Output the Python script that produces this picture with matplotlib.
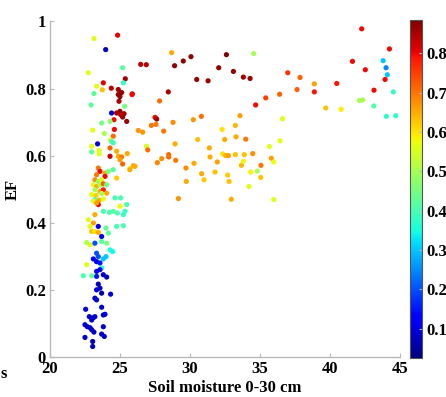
import matplotlib
matplotlib.use("Agg")
import matplotlib.pyplot as plt
from matplotlib.ticker import FixedLocator, FixedFormatter

plt.rcParams.update({
    'font.family': 'serif',
    'font.serif': ['Liberation Serif', 'DejaVu Serif'],
    'font.weight': 'bold',
    'font.size': 12,
})

# (soil moisture, EF, colour value)
points = [
    # right-hand cloud
    (42.26, 0.978, 0.80), (44.24, 0.918, 0.80), (41.60, 0.881, 0.80), (43.79, 0.883, 0.30),
    (44.00, 0.862, 0.25), (42.52, 0.856, 0.80), (44.09, 0.841, 0.30), (43.93, 0.827, 0.80),
    (36.98, 0.847, 0.76), (37.86, 0.833, 0.72), (38.88, 0.814, 0.66), (40.48, 0.815, 0.79),
    (37.64, 0.797, 0.72), (38.88, 0.790, 0.79), (43.14, 0.795, 0.80), (44.52, 0.790, 0.38),
    (35.41, 0.772, 0.75), (36.40, 0.783, 0.72), (42.10, 0.764, 0.50), (42.33, 0.766, 0.50),
    (39.69, 0.742, 0.63), (40.79, 0.738, 0.59), (43.12, 0.748, 0.41), (44.02, 0.717, 0.37),
    (44.69, 0.719, 0.37), (36.60, 0.710, 0.56), (36.43, 0.644, 0.56), (35.67, 0.627, 0.56),
    (35.81, 0.592, 0.66), (35.98, 0.581, 0.57), (35.07, 0.571, 0.70), (35.05, 0.535, 0.63),
    (35.98, 0.469, 0.56),
    # middle cloud
    (28.69, 0.907, 0.65), (30.07, 0.895, 0.87), (29.52, 0.882, 0.87), (28.90, 0.868, 0.87),
    (26.48, 0.872, 0.84), (26.88, 0.871, 0.84), (32.60, 0.901, 0.88), (34.55, 0.904, 0.50),
    (32.05, 0.862, 0.87), (33.10, 0.851, 0.87), (33.81, 0.834, 0.86), (34.29, 0.830, 0.86),
    (30.48, 0.827, 0.87), (31.29, 0.823, 0.86), (25.88, 0.784, 0.85), (28.45, 0.790, 0.85),
    (27.83, 0.763, 0.71), (34.69, 0.751, 0.80), (27.50, 0.714, 0.80), (27.62, 0.709, 0.86),
    (28.79, 0.699, 0.68), (30.24, 0.707, 0.67), (30.81, 0.717, 0.71), (33.57, 0.719, 0.66),
    (26.31, 0.675, 0.67), (26.62, 0.670, 0.67), (27.24, 0.690, 0.70), (27.57, 0.693, 0.70),
    (28.12, 0.673, 0.70), (32.29, 0.678, 0.60), (33.24, 0.690, 0.64), (33.29, 0.656, 0.65),
    (33.98, 0.649, 0.70), (26.90, 0.628, 0.55), (26.98, 0.617, 0.71), (28.93, 0.635, 0.65),
    (30.55, 0.648, 0.63), (32.48, 0.648, 0.65), (31.38, 0.623, 0.65), (31.43, 0.596, 0.65),
    (32.33, 0.605, 0.60), (32.55, 0.600, 0.64), (32.74, 0.600, 0.66), (33.24, 0.603, 0.63),
    (33.88, 0.603, 0.63), (34.48, 0.606, 0.68), (28.48, 0.603, 0.71), (28.48, 0.596, 0.71),
    (27.98, 0.591, 0.67), (27.67, 0.579, 0.69), (28.98, 0.586, 0.70), (26.07, 0.568, 0.65),
    (25.71, 0.561, 0.60), (30.29, 0.577, 0.65), (29.71, 0.563, 0.68), (31.95, 0.581, 0.66),
    (33.67, 0.571, 0.64), (33.81, 0.583, 0.58), (30.83, 0.546, 0.65), (31.79, 0.551, 0.63),
    (32.69, 0.542, 0.62), (34.33, 0.551, 0.58), (34.81, 0.554, 0.50), (29.74, 0.523, 0.65),
    (31.00, 0.528, 0.62), (32.79, 0.523, 0.63), (34.21, 0.508, 0.56), (29.17, 0.472, 0.67),
    (32.95, 0.470, 0.65),
    # dense column, upper part
    (23.14, 0.949, 0.56), (24.83, 0.959, 0.81), (23.98, 0.916, 0.08), (22.74, 0.847, 0.56),
    (25.19, 0.862, 0.42), (25.38, 0.829, 0.86), (25.24, 0.817, 0.38), (23.81, 0.817, 0.81),
    (23.33, 0.807, 0.56), (23.74, 0.796, 0.63), (23.14, 0.785, 0.42), (24.38, 0.801, 0.84),
    (24.88, 0.797, 0.86), (25.12, 0.788, 0.87), (24.88, 0.782, 0.86), (25.00, 0.776, 0.87),
    (25.86, 0.782, 0.80), (24.93, 0.762, 0.85), (22.93, 0.751, 0.42), (25.33, 0.747, 0.45),
    (24.40, 0.727, 0.08), (25.00, 0.732, 0.86), (25.29, 0.725, 0.86), (24.76, 0.727, 0.86),
    (25.05, 0.722, 0.84), (25.19, 0.715, 0.86), (25.48, 0.702, 0.86), (24.57, 0.707, 0.80),
    (24.29, 0.702, 0.47), (23.69, 0.697, 0.45), (23.05, 0.676, 0.56), (23.88, 0.666, 0.50),
    (24.60, 0.678, 0.80), (24.52, 0.658, 0.71), (24.33, 0.646, 0.56), (24.40, 0.642, 0.40),
    (24.52, 0.638, 0.40), (23.40, 0.635, 0.10), (22.98, 0.611, 0.43), (22.98, 0.628, 0.56),
    (23.50, 0.615, 0.56), (24.29, 0.623, 0.72), (24.76, 0.613, 0.65), (24.29, 0.598, 0.83),
    (24.88, 0.598, 0.65), (25.12, 0.596, 0.70), (25.00, 0.588, 0.66), (25.52, 0.606, 0.65),
    (23.52, 0.605, 0.56), (25.19, 0.575, 0.72), (25.95, 0.570, 0.65), (25.71, 0.558, 0.65),
    (23.45, 0.563, 0.70), (23.57, 0.553, 0.80), (23.93, 0.548, 0.65), (23.33, 0.543, 0.70),
    (24.52, 0.558, 0.42), (24.17, 0.553, 0.45), (24.76, 0.533, 0.62), (23.93, 0.538, 0.80),
    (23.21, 0.528, 0.68), (23.45, 0.523, 0.48), (23.69, 0.528, 0.56), (23.10, 0.513, 0.56),
    (23.33, 0.508, 0.65), (23.57, 0.513, 0.50), (23.81, 0.516, 0.72), (24.05, 0.513, 0.44),
    (23.21, 0.498, 0.50), (23.57, 0.493, 0.65), (23.81, 0.498, 0.78), (22.98, 0.484, 0.56),
    (23.29, 0.481, 0.62), (23.69, 0.487, 0.50), (24.05, 0.488, 0.65), (23.21, 0.469, 0.42),
    (23.52, 0.467, 0.65), (23.81, 0.471, 0.56), (24.64, 0.474, 0.40), (25.05, 0.474, 0.40),
    # dense column, middle
    (23.10, 0.464, 0.56), (23.45, 0.454, 0.80), (23.33, 0.459, 0.66), (25.00, 0.449, 0.58),
    (25.48, 0.454, 0.40), (23.81, 0.434, 0.40), (24.24, 0.431, 0.40), (24.52, 0.434, 0.42),
    (24.81, 0.429, 0.40), (25.24, 0.424, 0.38), (25.36, 0.434, 0.38), (23.21, 0.424, 0.65),
    (22.74, 0.409, 0.56), (23.10, 0.399, 0.66), (22.86, 0.389, 0.56), (23.45, 0.389, 0.10),
    (24.00, 0.384, 0.43), (24.76, 0.389, 0.40), (25.24, 0.391, 0.40), (22.98, 0.374, 0.63),
    (23.21, 0.374, 0.59), (23.45, 0.371, 0.65), (23.69, 0.359, 0.12), (24.17, 0.369, 0.42),
    (22.62, 0.341, 0.50), (22.86, 0.334, 0.56), (23.21, 0.339, 0.20), (23.69, 0.344, 0.42),
    (24.05, 0.339, 0.45), (24.29, 0.319, 0.35), (24.48, 0.314, 0.35), (23.33, 0.309, 0.20),
    (23.45, 0.299, 0.20), (23.10, 0.292, 0.12), (23.81, 0.292, 0.30), (24.00, 0.299, 0.30),
    (23.33, 0.284, 0.10), (23.57, 0.280, 0.15), (22.62, 0.275, 0.56), (23.69, 0.265, 0.35),
    (23.33, 0.255, 0.12), (23.57, 0.260, 0.10), (22.38, 0.242, 0.40), (22.98, 0.242, 0.43),
    (23.81, 0.245, 0.08), (24.05, 0.238, 0.08), (23.33, 0.240, 0.15),
    # dense column, bottom (blue)
    (23.45, 0.217, 0.08), (23.57, 0.205, 0.08), (23.33, 0.200, 0.09), (23.69, 0.190, 0.06),
    (24.33, 0.187, 0.09), (23.21, 0.175, 0.08), (23.33, 0.170, 0.09), (23.69, 0.148, 0.08),
    (22.55, 0.142, 0.09), (22.81, 0.120, 0.08), (22.98, 0.110, 0.09), (23.10, 0.117, 0.08),
    (23.21, 0.120, 0.09), (23.81, 0.125, 0.08), (23.93, 0.127, 0.09), (22.50, 0.096, 0.08),
    (22.67, 0.090, 0.09), (22.86, 0.087, 0.08), (22.98, 0.081, 0.08), (23.81, 0.090, 0.09),
    (23.14, 0.074, 0.08), (23.69, 0.068, 0.08), (23.88, 0.061, 0.09), (22.50, 0.058, 0.08),
    (23.05, 0.046, 0.07), (23.05, 0.031, 0.07),
]
soil = [p[0] for p in points]
ef = [p[1] for p in points]
cval = [p[2] for p in points]

x_ticks = [20, 25, 30, 35, 40, 45]
y_ticks = [0, 0.2, 0.4, 0.6, 0.8, 1.0]
y_labels = ['0', '0.2', '0.4', '0.6', '0.8', '1']
cb_ticks = [0.1, 0.2, 0.3, 0.4, 0.5, 0.6, 0.7, 0.8]

GRAY = '#b8b8b8'

fig = plt.figure(figsize=(4.46, 3.97), dpi=100)
ax = fig.add_axes([0.112, 0.101, 0.785, 0.845])
sc = ax.scatter(soil, ef, c=cval, cmap='jet', vmin=0.025, vmax=0.885,
                s=14, linewidths=0)

ax.set_xlim(20, 45)
ax.set_ylim(0, 1)
ax.xaxis.set_major_locator(FixedLocator(x_ticks))
ax.yaxis.set_major_locator(FixedLocator(y_ticks))
ax.yaxis.set_major_formatter(FixedFormatter(y_labels))
for s in ('top', 'right'):
    ax.spines[s].set_visible(False)
for s in ('left', 'bottom'):
    ax.spines[s].set_color(GRAY)
    ax.spines[s].set_linewidth(1.0)
ax.tick_params(direction='in', length=3, color=GRAY, labelsize=12, pad=3)
for lab in ax.get_xticklabels() + ax.get_yticklabels():
    lab.set_fontweight('bold')

ax.set_xlabel('Soil moisture 0-30 cm', fontsize=12, fontweight='bold', labelpad=2)
ax.set_ylabel('EF', fontsize=12, fontweight='bold', labelpad=3)

cax = fig.add_axes([0.919, 0.098, 0.027, 0.852])
cb = fig.colorbar(sc, cax=cax, ticks=cb_ticks)
cb.outline.set_edgecolor('#555555')
cb.outline.set_linewidth(0.8)
cax.tick_params(direction='in', length=2, color=GRAY, labelsize=12, pad=3)
for lab in cax.get_yticklabels():
    lab.set_fontweight('bold')

# fragment of a neighbouring label cut off at the left edge
fig.text(0.002, 0.058, 's', fontsize=12, fontweight='bold', ha='left', va='center')

fig.savefig('out.png', dpi=100)
